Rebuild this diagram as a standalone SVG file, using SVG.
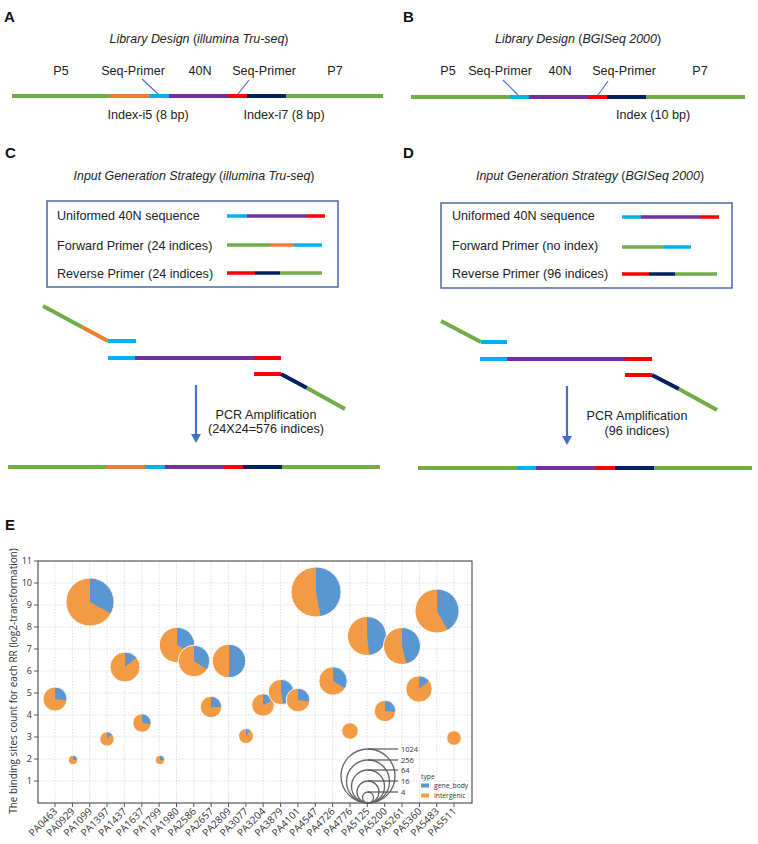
<svg xmlns="http://www.w3.org/2000/svg" width="758" height="844" viewBox="0 0 758 844">
<style>
text{font-family:"Liberation Sans",Arial,sans-serif;fill:#222}
.plab{font-size:15px;font-weight:bold;fill:#111}
.lbl{font-size:12.6px}
.ttl{font-size:12.4px}
.it{font-style:italic}
.box{fill:none;stroke:#4a6aa5;stroke-width:1.5}
.s{stroke-width:4;fill:none;stroke-linecap:butt}
.b{stroke-width:3.5;fill:none}
.g{stroke:#70ad47}.o{stroke:#ed7d31}.c{stroke:#00b0f0}.p{stroke:#7030a0}.r{stroke:#ff0000}.n{stroke:#002060}
.lead{stroke:#4472c4;stroke-width:1.2;fill:none}
.arr{stroke:#4472c4;stroke-width:2.2;fill:none}
.ch{font-family:"Open Sans","Noto Sans",sans-serif;fill:#333}
.tick{font-size:9px;text-anchor:end}
.xl{font-size:10px;text-anchor:end}
.grid line{stroke:#d6d6d6;stroke-width:0.8;stroke-dasharray:1.5 1.5}
.or{fill:#f39a45}.bl{fill:#5a96d1}
.edge{fill:none;stroke:#fff;stroke-width:0.9}
.sz{fill:none;stroke:#666;stroke-width:1.3}
.szl{stroke:#555;stroke-width:1.2}
.small{font-size:7.5px}
.leg{font-size:6.8px}
</style>

<!-- Panel A -->
<g id="panelA">
<text class="plab" x="4" y="22">A</text>
<text class="ttl" x="199" y="43" text-anchor="middle"><tspan class="it">Library Design </tspan>(<tspan class="it">illumina Tru-seq</tspan>)</text>
<text class="lbl" x="61" y="75" text-anchor="middle">P5</text>
<text class="lbl" x="133" y="75" text-anchor="middle">Seq-Primer</text>
<text class="lbl" x="200" y="75" text-anchor="middle">40N</text>
<text class="lbl" x="264" y="75" text-anchor="middle">Seq-Primer</text>
<text class="lbl" x="335" y="75" text-anchor="middle">P7</text>
<line class="s g" x1="12" y1="96" x2="110" y2="96"/>
<line class="s o" x1="110" y1="96" x2="149" y2="96"/>
<line class="s c" x1="149" y1="96" x2="169" y2="96"/>
<line class="s p" x1="169" y1="96" x2="228" y2="96"/>
<line class="s r" x1="228" y1="96" x2="247" y2="96"/>
<line class="s n" x1="247" y1="96" x2="286" y2="96"/>
<line class="s g" x1="286" y1="96" x2="383" y2="96"/>
<text class="lbl" x="148" y="119" text-anchor="middle">Index-i5 (8 bp)</text>
<text class="lbl" x="284" y="119" text-anchor="middle">Index-i7 (8 bp)</text>
</g>

<!-- Panel B -->
<g id="panelB">
<text class="plab" x="403" y="22">B</text>
<text class="ttl" x="578" y="43" text-anchor="middle"><tspan class="it">Library Design </tspan>(<tspan class="it">BGISeq 2000</tspan>)</text>
<text class="lbl" x="448" y="75" text-anchor="middle">P5</text>
<text class="lbl" x="500" y="75" text-anchor="middle">Seq-Primer</text>
<text class="lbl" x="560" y="75" text-anchor="middle">40N</text>
<text class="lbl" x="624" y="75" text-anchor="middle">Seq-Primer</text>
<text class="lbl" x="700" y="75" text-anchor="middle">P7</text>
<line class="s g" x1="411" y1="97" x2="510" y2="97"/>
<line class="s c" x1="510" y1="97" x2="529" y2="97"/>
<line class="s p" x1="529" y1="97" x2="588" y2="97"/>
<line class="s r" x1="588" y1="97" x2="607" y2="97"/>
<line class="s n" x1="607" y1="97" x2="646" y2="97"/>
<line class="s g" x1="646" y1="97" x2="745" y2="97"/>
<text class="lbl" x="653" y="119" text-anchor="middle">Index (10 bp)</text>
</g>

<!-- Panel C -->
<g id="panelC">
<text class="plab" x="5" y="158">C</text>
<text class="ttl" x="194" y="180" text-anchor="middle"><tspan class="it">Input Generation Strategy </tspan>(<tspan class="it">illumina Tru-seq</tspan>)</text>
<g id="legendC">
<rect class="box" x="47" y="201" width="291" height="86"/>
<text class="lbl" x="57" y="220">Uniformed 40N sequence</text>
<text class="lbl" x="57" y="250">Forward Primer (24 indices)</text>
<text class="lbl" x="57" y="278">Reverse Primer (24 indices)</text>
<line class="b c" x1="227" y1="216" x2="247" y2="216"/>
<line class="b p" x1="247" y1="216" x2="306" y2="216"/>
<line class="b r" x1="306" y1="216" x2="325" y2="216"/>
<line class="b g" x1="227" y1="245" x2="270" y2="245"/>
<line class="b o" x1="270" y1="245" x2="294" y2="245"/>
<line class="b c" x1="294" y1="245" x2="322" y2="245"/>
<line class="b r" x1="227" y1="273" x2="255" y2="273"/>
<line class="b n" x1="255" y1="273" x2="280" y2="273"/>
<line class="b g" x1="280" y1="273" x2="322" y2="273"/>
</g>
<g id="strandsC">
<line class="s g" x1="43" y1="306" x2="82" y2="327"/>
<line class="s o" x1="82" y1="327" x2="108" y2="341"/>
<line class="s c" x1="108" y1="341" x2="136" y2="341"/>
<line class="s c" x1="108" y1="358" x2="135" y2="358"/>
<line class="s p" x1="135" y1="358" x2="254" y2="358"/>
<line class="s r" x1="254" y1="358" x2="281" y2="358"/>
<line class="s r" x1="254" y1="374" x2="281" y2="374"/>
<line class="s n" x1="281" y1="374" x2="307" y2="388"/>
<line class="s g" x1="307" y1="388" x2="345" y2="409"/>
</g>
<text class="lbl" x="266" y="419" text-anchor="middle">PCR Amplification</text>
<text class="lbl" x="266" y="433" text-anchor="middle">(24X24=576 indices)</text>
<g id="productC">
<line class="s g" x1="8" y1="467" x2="106" y2="467"/>
<line class="s o" x1="106" y1="467" x2="145" y2="467"/>
<line class="s c" x1="145" y1="467" x2="165" y2="467"/>
<line class="s p" x1="165" y1="467" x2="224" y2="467"/>
<line class="s r" x1="224" y1="467" x2="243" y2="467"/>
<line class="s n" x1="243" y1="467" x2="282" y2="467"/>
<line class="s g" x1="282" y1="467" x2="380" y2="467"/>
</g>
</g>

<!-- Panel D -->
<g id="panelD">
<text class="plab" x="403" y="158">D</text>
<text class="ttl" x="590" y="180" text-anchor="middle"><tspan class="it">Input Generation Strategy </tspan>(<tspan class="it">BGISeq 2000</tspan>)</text>
<g id="legendD">
<rect class="box" x="441" y="203" width="291" height="85"/>
<text class="lbl" x="452" y="220">Uniformed 40N sequence</text>
<text class="lbl" x="452" y="250">Forward Primer (no index)</text>
<text class="lbl" x="452" y="278">Reverse Primer (96 indices)</text>
<line class="b c" x1="622" y1="217" x2="641" y2="217"/>
<line class="b p" x1="641" y1="217" x2="700" y2="217"/>
<line class="b r" x1="700" y1="217" x2="719" y2="217"/>
<line class="b g" x1="622" y1="247" x2="664" y2="247"/>
<line class="b c" x1="664" y1="247" x2="691" y2="247"/>
<line class="b r" x1="622" y1="274" x2="649" y2="274"/>
<line class="b n" x1="649" y1="274" x2="675" y2="274"/>
<line class="b g" x1="675" y1="274" x2="717" y2="274"/>
</g>
<g id="strandsD">
<line class="s g" x1="441" y1="321" x2="481" y2="342"/>
<line class="s c" x1="481" y1="342" x2="507" y2="342"/>
<line class="s c" x1="480" y1="359" x2="507" y2="359"/>
<line class="s p" x1="507" y1="359" x2="625" y2="359"/>
<line class="s r" x1="625" y1="359" x2="652" y2="359"/>
<line class="s r" x1="625" y1="375" x2="652" y2="375"/>
<line class="s n" x1="652" y1="375" x2="679" y2="389"/>
<line class="s g" x1="679" y1="389" x2="717" y2="410"/>
</g>
<text class="lbl" x="637" y="420" text-anchor="middle">PCR Amplification</text>
<text class="lbl" x="637" y="435" text-anchor="middle">(96 indices)</text>
<g id="productD">
<line class="s g" x1="418" y1="468" x2="517" y2="468"/>
<line class="s c" x1="517" y1="468" x2="536" y2="468"/>
<line class="s p" x1="536" y1="468" x2="595" y2="468"/>
<line class="s r" x1="595" y1="468" x2="615" y2="468"/>
<line class="s n" x1="615" y1="468" x2="654" y2="468"/>
<line class="s g" x1="654" y1="468" x2="752" y2="468"/>
</g>
</g>

<!-- connectors -->
<g id="connectors">
<line class="lead" x1="142" y1="79" x2="158" y2="94"/>
<line class="lead" x1="238" y1="94" x2="249" y2="80"/>
<line class="lead" x1="503" y1="80" x2="518" y2="95"/>
<line class="lead" x1="598" y1="95" x2="608" y2="81"/>
<line class="arr" x1="196" y1="385" x2="196" y2="436"/>
<path d="M191,434 L201,434 L196,443 Z" fill="#4472c4"/>
<line class="arr" x1="567" y1="386" x2="567" y2="438"/>
<path d="M562,436 L572,436 L567,445 Z" fill="#4472c4"/>
</g>

<!-- Panel E -->
<g id="panelE">
<text class="plab" x="5" y="530">E</text>
<g class="grid">
<line x1="38" y1="781" x2="472" y2="781"/><line x1="38" y1="759" x2="472" y2="759"/><line x1="38" y1="737" x2="472" y2="737"/><line x1="38" y1="715" x2="472" y2="715"/><line x1="38" y1="693" x2="472" y2="693"/><line x1="38" y1="671" x2="472" y2="671"/><line x1="38" y1="649" x2="472" y2="649"/><line x1="38" y1="627" x2="472" y2="627"/><line x1="38" y1="605" x2="472" y2="605"/><line x1="38" y1="583" x2="472" y2="583"/>
<line x1="55" y1="561" x2="55" y2="803"/><line x1="72.4" y1="561" x2="72.4" y2="803"/><line x1="89.7" y1="561" x2="89.7" y2="803"/><line x1="107" y1="561" x2="107" y2="803"/><line x1="124.4" y1="561" x2="124.4" y2="803"/><line x1="141.8" y1="561" x2="141.8" y2="803"/><line x1="159.1" y1="561" x2="159.1" y2="803"/><line x1="176.5" y1="561" x2="176.5" y2="803"/><line x1="193.8" y1="561" x2="193.8" y2="803"/><line x1="211.2" y1="561" x2="211.2" y2="803"/><line x1="228.5" y1="561" x2="228.5" y2="803"/><line x1="245.9" y1="561" x2="245.9" y2="803"/><line x1="263.2" y1="561" x2="263.2" y2="803"/><line x1="280.6" y1="561" x2="280.6" y2="803"/><line x1="297.9" y1="561" x2="297.9" y2="803"/><line x1="315.3" y1="561" x2="315.3" y2="803"/><line x1="332.6" y1="561" x2="332.6" y2="803"/><line x1="350" y1="561" x2="350" y2="803"/><line x1="367.3" y1="561" x2="367.3" y2="803"/><line x1="384.7" y1="561" x2="384.7" y2="803"/><line x1="402" y1="561" x2="402" y2="803"/><line x1="419.4" y1="561" x2="419.4" y2="803"/><line x1="436.7" y1="561" x2="436.7" y2="803"/><line x1="454" y1="561" x2="454" y2="803"/>
</g>
<rect x="38" y="561" width="434" height="242" fill="none" stroke="#555" stroke-width="1.2"/>
<g stroke="#555" stroke-width="1">
<line x1="34" y1="561" x2="38" y2="561"/><line x1="34" y1="583" x2="38" y2="583"/><line x1="34" y1="605" x2="38" y2="605"/><line x1="34" y1="627" x2="38" y2="627"/><line x1="34" y1="649" x2="38" y2="649"/><line x1="34" y1="671" x2="38" y2="671"/><line x1="34" y1="693" x2="38" y2="693"/><line x1="34" y1="715" x2="38" y2="715"/><line x1="34" y1="737" x2="38" y2="737"/><line x1="34" y1="759" x2="38" y2="759"/><line x1="34" y1="781" x2="38" y2="781"/>
<line x1="55" y1="803" x2="55" y2="807"/><line x1="72.4" y1="803" x2="72.4" y2="807"/><line x1="89.7" y1="803" x2="89.7" y2="807"/><line x1="107" y1="803" x2="107" y2="807"/><line x1="124.4" y1="803" x2="124.4" y2="807"/><line x1="141.8" y1="803" x2="141.8" y2="807"/><line x1="159.1" y1="803" x2="159.1" y2="807"/><line x1="176.5" y1="803" x2="176.5" y2="807"/><line x1="193.8" y1="803" x2="193.8" y2="807"/><line x1="211.2" y1="803" x2="211.2" y2="807"/><line x1="228.5" y1="803" x2="228.5" y2="807"/><line x1="245.9" y1="803" x2="245.9" y2="807"/><line x1="263.2" y1="803" x2="263.2" y2="807"/><line x1="280.6" y1="803" x2="280.6" y2="807"/><line x1="297.9" y1="803" x2="297.9" y2="807"/><line x1="315.3" y1="803" x2="315.3" y2="807"/><line x1="332.6" y1="803" x2="332.6" y2="807"/><line x1="350" y1="803" x2="350" y2="807"/><line x1="367.3" y1="803" x2="367.3" y2="807"/><line x1="384.7" y1="803" x2="384.7" y2="807"/><line x1="402" y1="803" x2="402" y2="807"/><line x1="419.4" y1="803" x2="419.4" y2="807"/><line x1="436.7" y1="803" x2="436.7" y2="807"/><line x1="454" y1="803" x2="454" y2="807"/>
</g>
<g>
<text class="ch tick" x="32" y="564">11</text><text class="ch tick" x="32" y="586">10</text><text class="ch tick" x="32" y="608">9</text><text class="ch tick" x="32" y="630">8</text><text class="ch tick" x="32" y="652">7</text><text class="ch tick" x="32" y="674">6</text><text class="ch tick" x="32" y="696">5</text><text class="ch tick" x="32" y="718">4</text><text class="ch tick" x="32" y="740">3</text><text class="ch tick" x="32" y="762">2</text><text class="ch tick" x="32" y="784">1</text>
</g>
<text class="ch" font-size="10" transform="translate(17,681) rotate(-90)" text-anchor="middle">The binding sites count for each RR (log2-transformation)</text>
<g id="xlabels">
<text class="ch xl" transform="translate(58,812) rotate(-45)">PA0463</text>
<text class="ch xl" transform="translate(75.4,812) rotate(-45)">PA0929</text>
<text class="ch xl" transform="translate(92.7,812) rotate(-45)">PA1099</text>
<text class="ch xl" transform="translate(110,812) rotate(-45)">PA1397</text>
<text class="ch xl" transform="translate(127.4,812) rotate(-45)">PA1437</text>
<text class="ch xl" transform="translate(144.8,812) rotate(-45)">PA1637</text>
<text class="ch xl" transform="translate(162.1,812) rotate(-45)">PA1799</text>
<text class="ch xl" transform="translate(179.5,812) rotate(-45)">PA1980</text>
<text class="ch xl" transform="translate(196.8,812) rotate(-45)">PA2586</text>
<text class="ch xl" transform="translate(214.2,812) rotate(-45)">PA2657</text>
<text class="ch xl" transform="translate(231.5,812) rotate(-45)">PA2809</text>
<text class="ch xl" transform="translate(248.9,812) rotate(-45)">PA3077</text>
<text class="ch xl" transform="translate(266.2,812) rotate(-45)">PA3204</text>
<text class="ch xl" transform="translate(283.6,812) rotate(-45)">PA3879</text>
<text class="ch xl" transform="translate(300.9,812) rotate(-45)">PA4101</text>
<text class="ch xl" transform="translate(318.3,812) rotate(-45)">PA4547</text>
<text class="ch xl" transform="translate(335.6,812) rotate(-45)">PA4726</text>
<text class="ch xl" transform="translate(353,812) rotate(-45)">PA4776</text>
<text class="ch xl" transform="translate(370.3,812) rotate(-45)">PA5125</text>
<text class="ch xl" transform="translate(387.7,812) rotate(-45)">PA5200</text>
<text class="ch xl" transform="translate(405,812) rotate(-45)">PA5261</text>
<text class="ch xl" transform="translate(422.4,812) rotate(-45)">PA5360</text>
<text class="ch xl" transform="translate(439.7,812) rotate(-45)">PA5483</text>
<text class="ch xl" transform="translate(457,812) rotate(-45)">PA5511</text>
</g>
<g id="pies">
<g id="pie-PA0463"><circle class="or" cx="55" cy="699" r="12"/><path class="bl" d="M55 699 L55 687 A12 12 0 0 1 66.9 700.5 Z"/><circle class="edge" cx="55" cy="699" r="12"/></g>
<g id="pie-PA0929"><circle class="or" cx="73" cy="760" r="4.7"/><path class="bl" d="M73 760 L73 755.3 A4.7 4.7 0 0 1 77.7 760 Z"/><circle class="edge" cx="73" cy="760" r="4.7"/></g>
<g id="pie-PA1099"><circle class="or" cx="90" cy="602" r="24"/><path class="bl" d="M90 602 L90 578 A24 24 0 0 1 111 613.6 Z"/><circle class="edge" cx="90" cy="602" r="24"/></g>
<g id="pie-PA1397"><circle class="or" cx="107" cy="739" r="7.2"/><path class="bl" d="M107 739 L107 731.8 A7.2 7.2 0 0 1 111.9 733.8 Z"/><circle class="edge" cx="107" cy="739" r="7.2"/></g>
<g id="pie-PA1437"><circle class="or" cx="125" cy="667" r="15"/><path class="bl" d="M125 667 L125 652 A15 15 0 0 1 136.6 657.4 Z"/><circle class="edge" cx="125" cy="667" r="15"/></g>
<g id="pie-PA1637"><circle class="or" cx="142" cy="723" r="9.2"/><path class="bl" d="M142 723 L142 713.8 A9.2 9.2 0 0 1 151.1 724.2 Z"/><circle class="edge" cx="142" cy="723" r="9.2"/></g>
<g id="pie-PA1799"><circle class="or" cx="160" cy="760" r="4.7"/><path class="bl" d="M160 760 L160 755.3 A4.7 4.7 0 0 1 164.7 760 Z"/><circle class="edge" cx="160" cy="760" r="4.7"/></g>
<g id="pie-PA1980"><circle class="or" cx="177" cy="645" r="17.7"/><path class="bl" d="M177 645 L177 627.3 A17.7 17.7 0 0 1 193 652.5 Z"/><circle class="edge" cx="177" cy="645" r="17.7"/></g>
<g id="pie-PA2586"><circle class="or" cx="194" cy="661" r="15.8"/><path class="bl" d="M194 661 L194 645.2 A15.8 15.8 0 0 1 207.3 669.5 Z"/><circle class="edge" cx="194" cy="661" r="15.8"/></g>
<g id="pie-PA2657"><circle class="or" cx="211" cy="707" r="10.7"/><path class="bl" d="M211 707 L211 696.3 A10.7 10.7 0 0 1 221.7 707 Z"/><circle class="edge" cx="211" cy="707" r="10.7"/></g>
<g id="pie-PA2809"><circle class="or" cx="229" cy="661" r="16.7"/><path class="bl" d="M229 661 L229 644.3 A16.7 16.7 0 0 1 229 677.7 Z"/><circle class="edge" cx="229" cy="661" r="16.7"/></g>
<g id="pie-PA3077"><circle class="or" cx="246" cy="736" r="7.5"/><path class="bl" d="M246 736 L246 728.5 A7.5 7.5 0 0 1 250.4 729.9 Z"/><circle class="edge" cx="246" cy="736" r="7.5"/></g>
<g id="pie-PA3204"><circle class="or" cx="263" cy="705" r="11.3"/><path class="bl" d="M263 705 L263 693.7 A11.3 11.3 0 0 1 273.2 700.2 Z"/><circle class="edge" cx="263" cy="705" r="11.3"/></g>
<g id="pie-PA3879"><circle class="or" cx="281" cy="692" r="12.7"/><path class="bl" d="M281 692 L281 679.3 A12.7 12.7 0 0 1 283.4 704.5 Z"/><circle class="edge" cx="281" cy="692" r="12.7"/></g>
<g id="pie-PA4101"><circle class="or" cx="298" cy="700" r="11.8"/><path class="bl" d="M298 700 L298 688.2 A11.8 11.8 0 0 1 309.7 701.5 Z"/><circle class="edge" cx="298" cy="700" r="11.8"/></g>
<g id="pie-PA4547"><circle class="or" cx="316" cy="592" r="25"/><path class="bl" d="M316 592 L316 567 A25 25 0 0 1 320.7 616.6 Z"/><circle class="edge" cx="316" cy="592" r="25"/></g>
<g id="pie-PA4726"><circle class="or" cx="333" cy="681" r="14.2"/><path class="bl" d="M333 681 L333 666.8 A14.2 14.2 0 0 1 345 688.6 Z"/><circle class="edge" cx="333" cy="681" r="14.2"/></g>
<g id="pie-PA4776"><circle class="or" cx="350" cy="731" r="8.3"/><circle class="edge" cx="350" cy="731" r="8.3"/></g>
<g id="pie-PA5125"><circle class="or" cx="367" cy="636" r="19.5"/><path class="bl" d="M367 636 L367 616.5 A19.5 19.5 0 0 1 369.4 655.3 Z"/><circle class="edge" cx="367" cy="636" r="19.5"/></g>
<g id="pie-PA5200"><circle class="or" cx="385" cy="711" r="10.7"/><path class="bl" d="M385 711 L385 700.3 A10.7 10.7 0 0 1 395.7 711.7 Z"/><circle class="edge" cx="385" cy="711" r="10.7"/></g>
<g id="pie-PA5261"><circle class="or" cx="402" cy="646" r="18.5"/><path class="bl" d="M402 646 L402 627.5 A18.5 18.5 0 0 1 406.6 663.9 Z"/><circle class="edge" cx="402" cy="646" r="18.5"/></g>
<g id="pie-PA5360"><circle class="or" cx="419" cy="689" r="13.2"/><path class="bl" d="M419 689 L419 675.8 A13.2 13.2 0 0 1 429.2 680.6 Z"/><circle class="edge" cx="419" cy="689" r="13.2"/></g>
<g id="pie-PA5483"><circle class="or" cx="437" cy="611" r="22"/><path class="bl" d="M437 611 L437 589 A22 22 0 0 1 447.6 630.3 Z"/><circle class="edge" cx="437" cy="611" r="22"/></g>
<g id="pie-PA5511"><circle class="or" cx="454" cy="738" r="7.3"/><circle class="edge" cx="454" cy="738" r="7.3"/></g>
</g>
<g id="sizeLegend">
<circle class="sz" cx="368" cy="776" r="27"/>
<circle class="sz" cx="368" cy="781.5" r="21.5"/>
<circle class="sz" cx="368" cy="786.5" r="16.5"/>
<circle class="sz" cx="368" cy="792" r="11"/>
<circle class="sz" cx="368" cy="797.5" r="5.5"/>
<line class="szl" x1="368" y1="749" x2="398" y2="749"/>
<line class="szl" x1="368" y1="760" x2="398" y2="760"/>
<line class="szl" x1="368" y1="770" x2="398" y2="770"/>
<line class="szl" x1="368" y1="781" x2="398" y2="781"/>
<line class="szl" x1="368" y1="792" x2="398" y2="792"/>
<text class="ch small" x="401" y="752">1024</text>
<text class="ch small" x="401" y="763">256</text>
<text class="ch small" x="401" y="773">64</text>
<text class="ch small" x="401" y="784">16</text>
<text class="ch small" x="401" y="795">4</text>
</g>
<g id="typeLegend">
<text class="ch leg" x="421" y="779">type</text>
<rect x="421" y="783.5" width="8" height="4" fill="#5a96d1"/>
<text class="ch leg" x="434" y="788">gene_body</text>
<rect x="421" y="793.5" width="8" height="4" fill="#f39a45"/>
<text class="ch leg" x="434" y="798">intergenic</text>
</g>
</g>
</svg>
